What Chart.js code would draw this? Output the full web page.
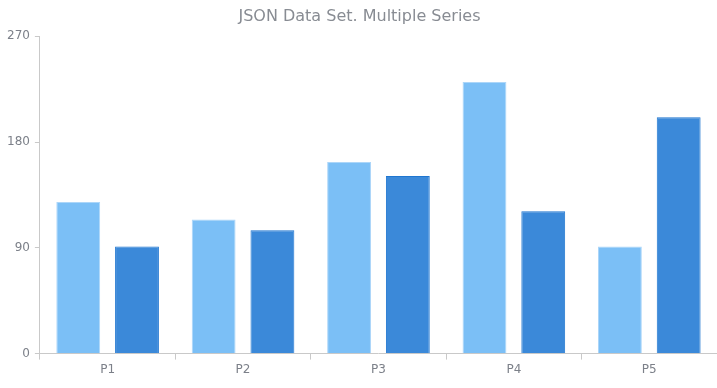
<!DOCTYPE html>
<html>
<head>
<meta charset="utf-8">
<script src="https://cdn.jsdelivr.net/npm/chart.js@4/dist/chart.umd.min.js"></script>
<style>
  html, body { margin: 0; padding: 0; background: #fff; }
  #wrap { width: 717px; height: 388px; position: relative; }
</style>
</head>
<body>
<div id="wrap"><canvas id="chart"></canvas></div>
<script>
const categories = ["P1", "P2", "P3", "P4", "P5"];
const series1 = [129, 114, 163, 231, 91];
const series2 = [91, 105, 151, 121, 201];
const yTicks = [0, 90, 180, 270];

const axisGrey = "#c9c9c9";
const textGrey = "#7c8089";

new Chart(document.getElementById("chart"), {
  type: "bar",
  data: {
    labels: categories,
    datasets: [
      {
        label: "Series 1",
        data: series1,
        backgroundColor: "#7bbff6",
        borderColor: "#acd6f9",
        borderWidth: 1,
        categoryPercentage: 0.868,
        barPercentage: 0.746,
      },
      {
        label: "Series 2",
        data: series2,
        backgroundColor: "#3b89d9",
        borderColor: "#1f76d0",
        borderWidth: 1,
        categoryPercentage: 0.868,
        barPercentage: 0.746,
      },
    ],
  },
  options: {
    responsive: true,
    maintainAspectRatio: false,
    animation: false,
    layout: { padding: { left: 2, right: 0, top: 5, bottom: 8 } },
    plugins: {
      legend: { display: false },
      tooltip: { enabled: false },
      title: {
        display: true,
        text: "JSON Data Set. Multiple Series",
        color: "#888c93",
        font: { family: "DejaVu Sans", size: 16, weight: "normal" },
        padding: { top: 2, bottom: 10 },
      },
    },
    scales: {
      x: {
        border: { color: axisGrey, width: 1 },
        grid: { drawOnChartArea: false, drawTicks: true, tickLength: 6, color: axisGrey, offset: true },
        ticks: { color: textGrey, padding: 3, font: { family: "DejaVu Sans", size: 12 } },
      },
      y: {
        min: 0,
        max: 270,
        afterBuildTicks: (axis) => { axis.ticks = yTicks.map(v => ({ value: v })); },
        border: { color: axisGrey, width: 1 },
        grid: { drawOnChartArea: false, drawTicks: true, tickLength: 5, color: axisGrey },
        ticks: { color: textGrey, padding: 5, font: { family: "DejaVu Sans", size: 12 } },
      },
    },
  },
});
</script>
</body>
</html>
